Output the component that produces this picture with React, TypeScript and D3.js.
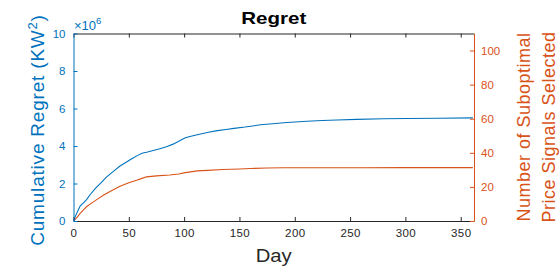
import { useEffect, useRef } from 'react';
import * as d3 from 'd3';

// cumulative regret (x 1e6 KW^2)
const regretDays = [0, 2, 4, 6, 9, 12, 15, 20, 25, 30, 36, 42, 48, 53, 58, 62, 67, 72, 78, 84, 90, 96, 101, 108, 115, 122, 130, 138, 145, 155, 162, 169, 180, 190, 200, 211, 225, 238, 256, 280, 301, 330, 361];
const regretValues = [0, 0.3, 0.55, 0.8, 0.97, 1.15, 1.4, 1.75, 2.05, 2.35, 2.65, 2.93, 3.15, 3.33, 3.5, 3.61, 3.68, 3.76, 3.85, 3.96, 4.1, 4.28, 4.44, 4.55, 4.64, 4.73, 4.82, 4.88, 4.94, 5.01, 5.07, 5.13, 5.19, 5.24, 5.28, 5.32, 5.36, 5.39, 5.42, 5.45, 5.47, 5.48, 5.5];

// number of suboptimal price signals
const suboptDays = [0, 3, 6, 9, 12, 18, 22, 27, 33, 42, 50, 57, 62, 66, 75, 87, 95, 101, 112, 121, 135, 150, 160, 175, 190, 220, 260, 300, 361];
const suboptValues = [0, 2, 4.5, 6.5, 8.5, 11.2, 13, 15.1, 17.3, 20.4, 22.5, 23.9, 25, 25.9, 26.5, 27, 27.6, 28.4, 29.4, 29.7, 30.2, 30.5, 30.8, 31.1, 31.2, 31.2, 31.2, 31.3, 31.3];

const dayTicks = [0, 50, 100, 150, 200, 250, 300, 350];
const regretTicks = [0, 2, 4, 6, 8, 10];
const suboptTicks = [0, 20, 40, 60, 80, 100];

const BLUE = '#0072BD';
const ORANGE = '#D95319';
const GRAY = '#262626';
const FONT = '"Liberation Sans", Arial, Helvetica, sans-serif';

const App = () => {
  const svgRef = useRef<SVGSVGElement>(null);
  const width = 560;
  const height = 272;

  useEffect(() => {
    if (!svgRef.current) return;
    const svg = d3.select(svgRef.current);
    svg.selectAll('*').remove();

    const left = 73.5, right = 474, top = 33.5, bottom = 221;

    const x = d3.scaleLinear().domain([0, 362]).range([left, right]);
    const yL = d3.scaleLinear().domain([0, 10]).range([bottom, top]);
    const yR = d3.scaleLinear().domain([0, 110]).range([bottom, top]);

    svg.append('rect').attr('width', width).attr('height', height).attr('fill', '#fff');

    // lines
    const clip = svg.append('clipPath').attr('id', 'plotclip');
    clip.append('rect').attr('x', left).attr('y', top).attr('width', right - left).attr('height', bottom - top);

    const blueLine = d3.line<number>()
      .x((_, i) => x(regretDays[i]))
      .y(d => yL(d));
    const orangeLine = d3.line<number>()
      .x((_, i) => x(suboptDays[i]))
      .y(d => yR(d));

    svg.append('path')
      .attr('d', orangeLine(suboptValues))
      .attr('fill', 'none')
      .attr('stroke', ORANGE)
      .attr('stroke-width', 1.1)
      .attr('clip-path', 'url(#plotclip)');
    svg.append('path')
      .attr('d', blueLine(regretValues))
      .attr('fill', 'none')
      .attr('stroke', BLUE)
      .attr('stroke-width', 1.1)
      .attr('clip-path', 'url(#plotclip)');

    // x axis (bottom) + mirrored top ticks
    const gx = svg.append('g').attr('transform', `translate(0,${bottom})`)
      .call(d3.axisBottom(x).tickValues(dayTicks).tickSizeInner(-4).tickSizeOuter(0).tickPadding(8));
    const gxTop = svg.append('g').attr('transform', `translate(0,${top})`)
      .call(d3.axisTop(x).tickValues(dayTicks).tickSizeInner(-4).tickSizeOuter(0).tickFormat(() => ''));
    [gx, gxTop].forEach(g => {
      g.select('.domain').attr('stroke', GRAY).attr('stroke-width', 1);
      g.selectAll('.tick line').attr('stroke', GRAY);
      g.selectAll('.tick text')
        .attr('fill', GRAY)
        .style('font-family', FONT)
        .style('font-size', '11.5px')
        .style('letter-spacing', '0.4px');
    });

    // left axis
    const gl = svg.append('g').attr('transform', `translate(${left},0)`)
      .call(d3.axisLeft(yL).tickValues(regretTicks).tickSizeInner(-4).tickSizeOuter(0).tickPadding(8));
    gl.select('.domain').attr('stroke', BLUE);
    gl.selectAll('.tick line').attr('stroke', BLUE);
    gl.selectAll('.tick text').attr('fill', BLUE).style('font-family', FONT).style('font-size', '11.5px');

    // right axis
    const gr = svg.append('g').attr('transform', `translate(${right},0)`)
      .call(d3.axisRight(yR).tickValues(suboptTicks).tickSizeInner(-4).tickSizeOuter(0).tickPadding(7));
    gr.select('.domain').attr('stroke', ORANGE);
    gr.selectAll('.tick line').attr('stroke', ORANGE);
    gr.selectAll('.tick text').attr('fill', ORANGE).style('font-family', FONT).style('font-size', '11.5px');

    // exponent marker
    const ex = svg.append('text')
      .attr('x', 74)
      .attr('y', 29.5)
      .attr('fill', BLUE)
      .style('font-family', FONT)
      .style('font-size', '13px');
    ex.append('tspan').text('×10');
    ex.append('tspan').attr('dy', -5.5).style('font-size', '9.5px').text('6');

    // title
    svg.append('text')
      .attr('x', (left + right) / 2)
      .attr('y', 24)
      .attr('text-anchor', 'middle')
      .attr('fill', '#000')
      .style('font-family', FONT)
      .style('font-weight', 'bold')
      .style('font-size', '17px')
      .attr('textLength', 65)
      .attr('lengthAdjust', 'spacingAndGlyphs')
      .text('Regret');

    // x label
    svg.append('text')
      .attr('x', (left + right) / 2)
      .attr('y', 262)
      .attr('text-anchor', 'middle')
      .attr('fill', GRAY)
      .style('font-family', FONT)
      .style('font-size', '17.5px')
      .attr('textLength', 36)
      .attr('lengthAdjust', 'spacingAndGlyphs')
      .text('Day');

    // left label
    const yl = svg.append('text')
      .attr('transform', `translate(43.5,130) rotate(-90)`)
      .attr('text-anchor', 'middle')
      .attr('fill', BLUE)
      .style('font-family', FONT)
      .style('font-size', '19px')
      .style('letter-spacing', '0.8px');
    yl.append('tspan').text('Cumulative Regret (KW');
    yl.append('tspan').attr('dy', -7).style('font-size', '13px').text('2');
    yl.append('tspan').attr('dy', 7).text(')');

    // right label (two lines)
    ['Number of Suboptimal', 'Price Signals Selected'].forEach((line, i) => {
      svg.append('text')
        .attr('transform', `translate(${530 + i * 24.5},127) rotate(-90)`)
        .attr('text-anchor', 'middle')
        .attr('fill', ORANGE)
        .style('font-family', FONT)
        .style('font-size', '18px')
        .style('letter-spacing', '0.5px')
        .text(line);
    });
  }, []);

  return (
    <svg
      ref={svgRef}
      width={width}
      height={height}
      style={{ position: 'absolute', left: 0, top: 0, display: 'block' }}
    />
  );
};

export default App;
